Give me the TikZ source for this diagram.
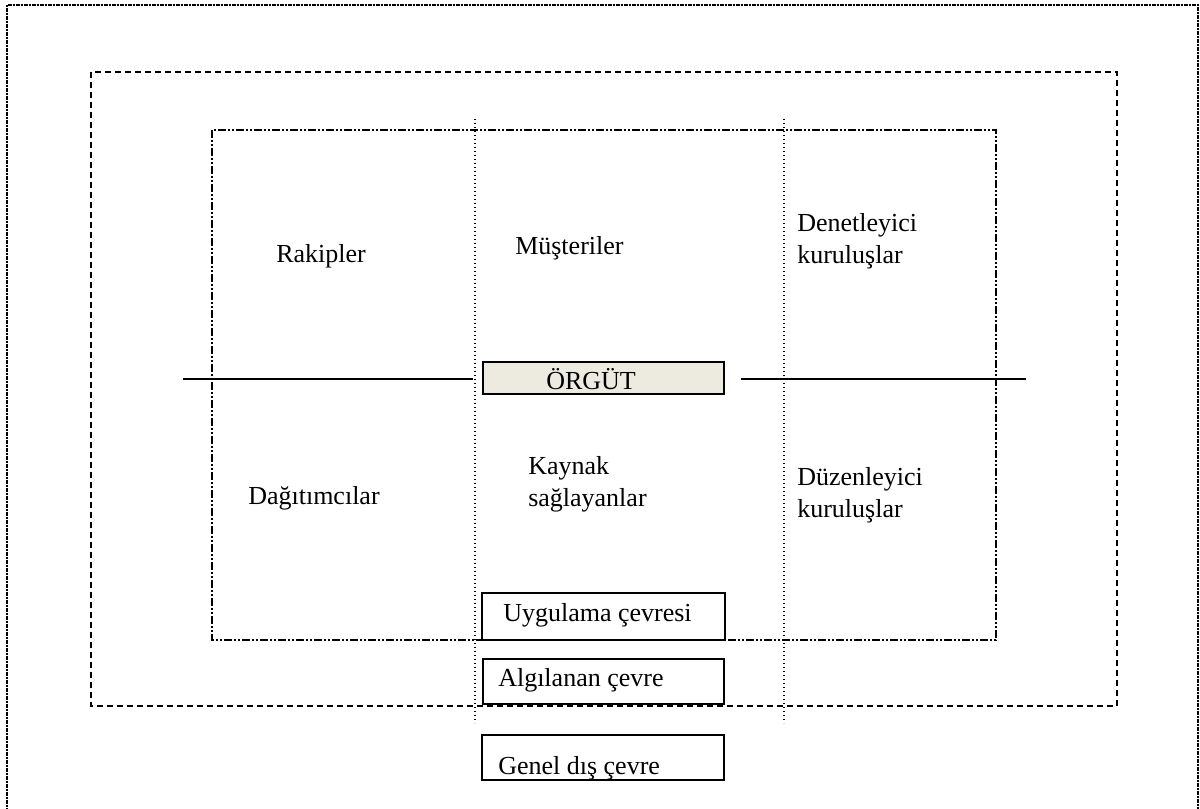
\documentclass[tikz,border=0pt]{standalone}
\usepackage{fontspec}
\setmainfont{Liberation Serif}
\definecolor{orgfill}{HTML}{EDEBE0}
\begin{document}
\begin{tikzpicture}[x=0.75pt,y=-0.75pt,
  lbl/.style={inner sep=0pt,anchor=west,align=left,font=\fontsize{19.5}{24}\selectfont},
  boxst/.style={draw,line width=1.4pt},
  outerfr/.style={line width=1.3pt,dash pattern=on 3pt off 1pt on 1pt off 1pt},
  midfr/.style={line width=1.7pt,dash pattern=on 4.5pt off 3pt},
  innerfr/.style={line width=1.6pt,dash pattern=on 6pt off 1.5pt on 1.5pt off 1.5pt on 1.5pt off 1.5pt},
  vdot/.style={line width=1.1pt,dash pattern=on 1.1pt off 1.9pt},
  hline/.style={line width=1.2pt}]
\useasboundingbox (0,0) rectangle (1200,809);
% frames
\draw[outerfr] (7,812) -- (7,5) -- (1198,5) -- (1198,812);
\draw[midfr] (91,72) rectangle (1117,706);
\draw[innerfr] (212,130) rectangle (996,640);
% vertical dotted lines
\coordinate (v1t) at (475,119); \coordinate (v1b) at (475,723);
\coordinate (v2t) at (784,119); \coordinate (v2b) at (784,723);
\draw[vdot] (v1t) -- (v1b);
\draw[vdot] (v2t) -- (v2b);
% horizontal line
\coordinate (h1a) at (183,379); \coordinate (h1b) at (473,379);
\coordinate (h2a) at (741,379); \coordinate (h2b) at (1026,379);
\draw[hline] (h1a) -- (h1b);
\draw[hline] (h2a) -- (h2b);
% boxes
\draw[boxst,fill=orgfill] (483,362) rectangle (724,394);
\node[lbl] (org) at (546,379) {ÖRGÜT};
\draw[boxst] (482,593) rectangle (725,640);
\node[lbl] (uyg) at (503,615) {Uygulama çevresi};
\draw[boxst] (483,659) rectangle (724,704);
\node[lbl] (alg) at (498,680) {Algılanan çevre};
\draw[boxst] (482,735) rectangle (724,780);
\node[lbl] (gen) at (498,768) {Genel dış çevre};
% labels
\node[lbl] (rak) at (276,256) {Rakipler};
\node[lbl] (mus) at (515,248) {Müşteriler};
\node[lbl] (den) at (797,241) {Denetleyici\\kuruluşlar};
\node[lbl] (kay) at (528,484) {Kaynak\\sağlayanlar};
\node[lbl] (dag) at (248,498) {Dağıtımcılar};
\node[lbl] (duz) at (797,495) {Düzenleyici\\kuruluşlar};
\end{tikzpicture}
\end{document}
